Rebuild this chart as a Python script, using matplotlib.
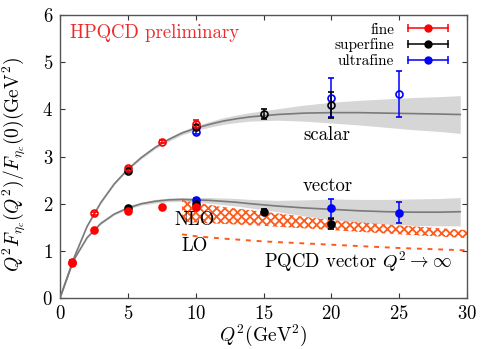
import numpy as np
import matplotlib
matplotlib.use("Agg")
import matplotlib.pyplot as plt
from matplotlib.lines import Line2D
from matplotlib.legend_handler import HandlerLine2D, HandlerTuple

plt.rcParams['font.family'] = 'serif'
plt.rcParams['font.serif'] = ['cmr10']
plt.rcParams['mathtext.fontset'] = 'cm'
plt.rcParams['axes.formatter.use_mathtext'] = True
plt.rcParams['hatch.linewidth'] = 1.3

# ---------------- data ----------------
# fine (red)
fine_x_s = [0.9, 2.5, 5.0, 7.5, 10.0]
fine_scalar = [0.77, 1.80, 2.75, 3.31, 3.69]
fine_scalar_err = [0.03, 0.03, 0.03, 0.03, 0.09]
fine_x_v = [0.9, 2.5, 5.0, 7.5, 10.0]
fine_vector = [0.74, 1.45, 1.85, 1.93, 1.92]
fine_vector_err = [0.02, 0.02, 0.02, 0.02, 0.04]

# superfine (black)
sf_x_s = [5.0, 10.0, 15.0, 20.0]
sf_scalar = [2.69, 3.62, 3.90, 4.09]
sf_scalar_err = [0.04, 0.05, 0.10, 0.28]
sf_x_v = [5.0, 10.0, 15.0, 20.0]
sf_vector = [1.91, 1.99, 1.83, 1.57]
sf_vector_err = [0.03, 0.04, 0.05, 0.10]

# ultrafine (blue)
uf_x_s = [10.0, 20.0, 25.0]
uf_scalar = [3.53, 4.25, 4.32]
uf_scalar_err = [0.06, 0.41, 0.49]
uf_x_v = [10.0, 20.0, 25.0]
uf_vector = [2.08, 1.90, 1.81]
uf_vector_err = [0.05, 0.20, 0.22]

# fit curves
fit_x = [0, 1, 2, 3, 4, 5, 6, 7, 8, 9, 10, 11, 12, 13, 14, 16, 18, 20, 22, 24, 26, 28, 29.5]
scalar_fit = [0, 0.83, 1.52, 2.02, 2.42, 2.73, 2.98, 3.19, 3.36, 3.50, 3.60, 3.68, 3.75,
              3.80, 3.84, 3.89, 3.92, 3.93, 3.93, 3.92, 3.91, 3.90, 3.89]
scalar_hw = [0, 0.01, 0.01, 0.02, 0.02, 0.02, 0.03, 0.03, 0.04, 0.04, 0.05, 0.06, 0.07,
             0.08, 0.09, 0.12, 0.17, 0.22, 0.26, 0.30, 0.34, 0.37, 0.40]
vector_fit = [0, 0.80, 1.28, 1.58, 1.78, 1.91, 2.00, 2.05, 2.08, 2.09, 2.08, 2.07, 2.05,
              2.03, 2.00, 1.95, 1.91, 1.88, 1.85, 1.83, 1.82, 1.82, 1.83]
vector_hw = [0, 0.01, 0.01, 0.02, 0.02, 0.03, 0.03, 0.04, 0.04, 0.04, 0.05, 0.06, 0.07,
             0.08, 0.09, 0.12, 0.17, 0.22, 0.24, 0.26, 0.28, 0.29, 0.30]

# PQCD
pqcd_x = [9, 10, 12, 15, 20, 25, 30]
nlo_upper = [2.08, 2.02, 1.93, 1.83, 1.65, 1.54, 1.44]
nlo_lower = [1.62, 1.60, 1.57, 1.53, 1.44, 1.35, 1.27]
lo_line = [1.35, 1.31, 1.26, 1.20, 1.13, 1.06, 1.01]

# ---------------- plot ----------------
fig = plt.figure(figsize=(4.98, 3.49), dpi=100)
ax = fig.add_axes([0.1205, 0.1461, 0.8173, 0.8109])

fx = np.array(fit_x)
sfit = np.array(scalar_fit); shw = np.array(scalar_hw)
vfit = np.array(vector_fit); vhw = np.array(vector_hw)
ax.fill_between(fx, sfit - shw, sfit + shw, color='#d6d6d6', lw=0, zorder=1)
ax.fill_between(fx, vfit - vhw, vfit + vhw, color='#d6d6d6', lw=0, zorder=1)

orange = '#ff5a1a'
ax.fill_between(pqcd_x, nlo_lower, nlo_upper, facecolor='none', edgecolor=orange,
                hatch='xxxx', lw=0, zorder=2)
ax.plot(pqcd_x, lo_line, color=orange, ls=(0, (2.5, 3)), lw=1.4, zorder=2)

ax.plot(fx, sfit, color='#7a7a7a', lw=1.2, zorder=3)
ax.plot(fx, vfit, color='#7a7a7a', lw=1.2, zorder=3)

def pts(x, y, e, c, filled):
    ax.errorbar(x, y, yerr=e, fmt='o', color=c, ms=5,
                mfc=c if filled else 'none', mec=c, mew=1.2,
                elinewidth=1.1, capsize=2.5, capthick=1.1, zorder=5)

pts(uf_x_s, uf_scalar, uf_scalar_err, 'blue', False)
pts(uf_x_v, uf_vector, uf_vector_err, 'blue', True)
pts(sf_x_s, sf_scalar, sf_scalar_err, 'black', False)
pts(sf_x_v, sf_vector, sf_vector_err, 'black', True)
pts(fine_x_s, fine_scalar, fine_scalar_err, 'red', False)
pts(fine_x_v, fine_vector, fine_vector_err, 'red', True)

ax.set_xlim(0, 30)
ax.set_ylim(0, 6)
ax.set_xticks([0, 5, 10, 15, 20, 25, 30])
ax.set_yticks([0, 1, 2, 3, 4, 5, 6])
ax.tick_params(direction='in', length=3.5, width=0.8, top=True, right=True,
               labelsize=13.5, colors='#333333', labelcolor='black', pad=5)
for s in ax.spines.values():
    s.set_color('#555555')
    s.set_linewidth(1.0)

ax.set_xlabel(r'$Q^2(\mathrm{GeV}^2)$', fontsize=14)
ax.xaxis.set_label_coords(0.5, -0.088)
ax.set_ylabel(r'$Q^2F_{\eta_c}(Q^2)/F_{\eta_c}(0)(\mathrm{GeV}^2)$', fontsize=14)
ax.yaxis.set_label_coords(-0.078, 0.47)

ax.text(0.75, 5.62, 'HPQCD preliminary', color='#ee2a2a', fontsize=13.5, va='center')
ax.text(19.65, 3.46, 'scalar', fontsize=13.5, ha='center', va='center')
ax.text(19.75, 2.37, 'vector', fontsize=13.5, ha='center', va='center')
ax.text(9.95, 1.65, 'NLO', fontsize=13.5, ha='center', va='center')
ax.text(9.95, 1.10, 'LO', fontsize=13.5, ha='center', va='center')
ax.text(21.96, 0.77, r'PQCD vector $Q^2\to\infty$', fontsize=13.5, ha='center', va='center')

# legend
handles = []
hmap = {}
for c in ['red', 'black', 'blue']:
    bar = Line2D([], [], color=c, lw=1.1, marker='|', ms=6, mew=1.1)
    dot = Line2D([], [], color=c, ls='none', marker='o', ms=5)
    hmap[bar] = HandlerLine2D(numpoints=2)
    hmap[dot] = HandlerLine2D(numpoints=1)
    handles.append((bar, dot))
leg = ax.legend(handles, ['fine', 'superfine', 'ultrafine'],
                handler_map={**hmap, tuple: HandlerTuple(ndivide=1, pad=0)},
                loc='upper right', bbox_to_anchor=(0.99, 1.01), frameon=False,
                markerfirst=False, fontsize=11, handlelength=3.2, handletextpad=0.6,
                labelspacing=0.12, borderpad=0.2)

fig.savefig('out.png', dpi=100)
